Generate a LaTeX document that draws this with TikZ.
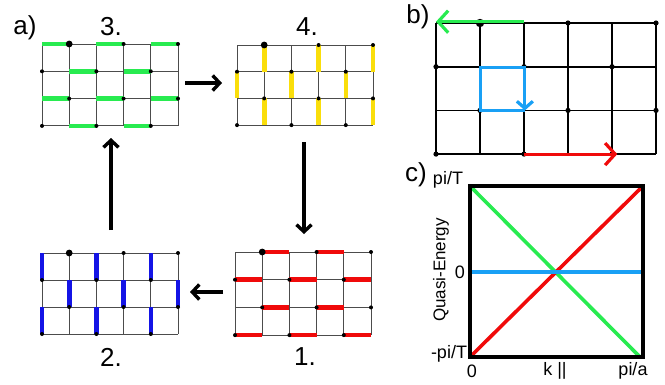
\documentclass[tikz,border=0pt]{standalone}
\usepackage{fontspec}
\setmainfont{Liberation Sans}
\usetikzlibrary{arrows.meta,calc}
\definecolor{bgreen}{RGB}{40,235,80}
\definecolor{byellow}{RGB}{250,222,10}
\definecolor{bred}{RGB}{240,10,10}
\definecolor{bblue}{RGB}{20,20,230}
\definecolor{lblue}{RGB}{25,160,245}
\tikzset{
  gridline/.style={line width=0.9pt, black!70},
  bgrid/.style={line width=1.7pt, black},
  bond/.style={line width=4.6pt},
  cyclearrow/.style={line width=3.4pt, -{Straight Barb[length=7pt,width=15pt]}},
  lab/.style={font=\fontsize{26}{28}\selectfont, inner sep=0pt},
  tick/.style={font=\fontsize{18}{20}\selectfont, inner sep=0pt},
  curve/.style={line width=3.6pt},
}
% x0, y0, dx, dy, grid style, small dot radius, big dot radius, bonds
\newcommand\mylattice[8]{%
  \begin{scope}[shift={(#1,#2)}, x=#3pt, y=-#4pt]
    \foreach \r in {0,...,3} \draw[#5] (0,\r) -- (5,\r);
    \foreach \c in {0,...,5} \draw[#5] (\c,0) -- (\c,3);
    #8
    \foreach \c in {0,...,5} {
      \foreach \r in {0,...,3} {
        \pgfmathtruncatemacro\myparity{mod(\c+\r,2)}
        \ifnum\myparity=1 \fill (\c,\r) circle[radius=#6]; \fi
      }
    }
    \fill (1,0) circle[radius=#7];
  \end{scope}}
\begin{document}
\begin{tikzpicture}[x=1pt, y=-1pt]
\useasboundingbox (0,0) rectangle (665,384);

% ---------- panel a ----------
\node[lab] (la) at (25,28) {a)};
\node[lab] (l3) at (111,27) {3.};
\node[lab] (l4) at (307,27) {4.};
\node[lab] (l2) at (111,357) {2.};
\node[lab] (l1) at (305,357) {1.};

% step 3 (green, horizontal)
\mylattice{42}{44}{27.2}{27.3}{gridline}{2pt}{3.4pt}{%
  \foreach \r in {0,2} \foreach \a in {0,2,4} \draw[bond,bgreen] (\a,\r) -- ++(1,0);
  \foreach \r in {1,3} \foreach \a in {1,3} \draw[bond,bgreen] (\a,\r) -- ++(1,0);
}
% step 4 (yellow, vertical)
\mylattice{237}{45}{27.2}{26.7}{gridline}{2pt}{3.4pt}{%
  \foreach \c in {1,3,5} \foreach \r in {0,2} \draw[bond,byellow] (\c,\r) -- ++(0,1);
  \foreach \c in {0,2,4} \draw[bond,byellow] (\c,1) -- ++(0,1);
}
% step 1 (red, horizontal)
\mylattice{235}{252}{27.2}{27.7}{gridline}{2pt}{3.4pt}{%
  \foreach \r in {0,2} \foreach \a in {1,3} \draw[bond,bred] (\a,\r) -- ++(1,0);
  \foreach \r in {1,3} \foreach \a in {0,2,4} \draw[bond,bred] (\a,\r) -- ++(1,0);
}
% step 2 (blue, vertical)
\mylattice{42}{253}{27.2}{27}{gridline}{2pt}{3.4pt}{%
  \foreach \c in {0,2,4} \foreach \r in {0,2} \draw[bond,bblue] (\c,\r) -- ++(0,1);
  \foreach \c in {1,3,5} \draw[bond,bblue] (\c,1) -- ++(0,1);
}

% cycle arrows
\coordinate (a34s) at (185,83);  \coordinate (a34e) at (222,83);
\coordinate (a41s) at (304,142); \coordinate (a41e) at (304,234);
\coordinate (a12s) at (223,292); \coordinate (a12e) at (190,292);
\coordinate (a23s) at (111,230); \coordinate (a23e) at (111,138);
\draw[cyclearrow] (a34s) -- (a34e);
\draw[cyclearrow] (a41s) -- (a41e);
\draw[cyclearrow] (a12s) -- (a12e);
\draw[cyclearrow] (a23s) -- (a23e);

% ---------- panel b ----------
\node[lab] (lb) at (418,17) {b)};
\mylattice{436}{23}{44}{43.7}{bgrid}{2.6pt}{4.2pt}{}
\begin{scope}[shift={(436,23)}, x=44pt, y=-43.7pt]
  \coordinate (gs) at (2,-0.03); \coordinate (ge) at (0,-0.03);
  \coordinate (rs) at (2,3); \coordinate (re) at (4.12,3);
  \coordinate (q1) at (2.02,2); \coordinate (q2) at (1.02,2);
  \coordinate (q3) at (1.02,1.02); \coordinate (q4) at (2.02,1.02);
  \draw[line width=3.2pt, bgreen, -{Straight Barb[length=10pt,width=22pt]}] (gs) -- (ge);
  \draw[line width=3.2pt, bred, -{Straight Barb[length=10pt,width=22pt]}] (rs) -- (re);
  \draw[line width=3.2pt, lblue, line join=miter, -{Straight Barb[length=7pt,width=16pt]}]
     (q1) -- (q2) -- (q3) -- (q4) -- (q1);
\end{scope}

% ---------- panel c ----------
\node[lab] (lc) at (416,175) {c)};
\coordinate (tl) at (470,186);
\coordinate (tr) at (643,186);
\coordinate (bl) at (470,357);
\coordinate (br) at (643,357);
\coordinate (ml) at (470,272);
\coordinate (mr) at (643,272);
\draw[curve, bgreen] (tl) -- ($(br)+(-3,0)$);
\draw[curve, bred] (bl) -- (tr);
\draw[curve, lblue] (ml) -- (mr);
\draw[line width=4.4pt, line join=miter] (tl) rectangle (br);
\node[tick] (tpi) at (448,180) {pi/T};
\node[tick] (tz) at (460,272) {0};
\node[tick] (tmpi) at (449,354) {-pi/T};
\node[tick, font=\fontsize{17}{19}\selectfont, rotate=90] (tq) at (441,270) {Quasi-Energy};
\node[tick] (k0) at (472,371) {0};
\node[tick] (kk) at (555,371) {k ||};
\node[tick] (kpi) at (633,371) {pi/a};
\end{tikzpicture}
\end{document}
